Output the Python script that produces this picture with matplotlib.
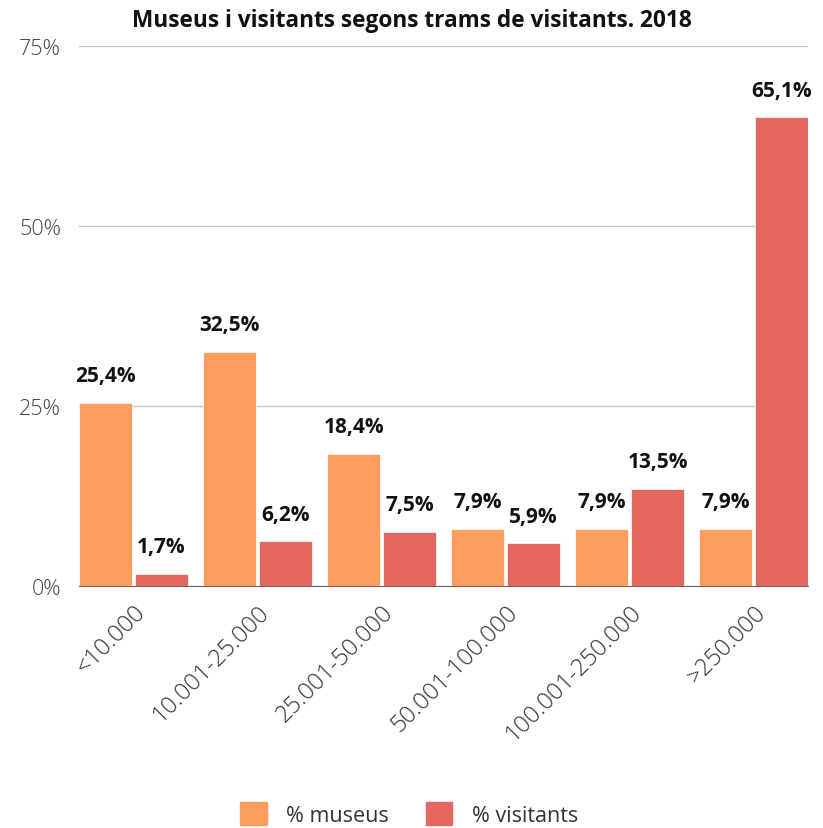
import matplotlib
matplotlib.use("Agg")
import matplotlib.pyplot as plt
import numpy as np
from matplotlib.patches import Patch

categories = ["<10.000", "10.001-25.000", "25.001-50.000", "50.001-100.000", "100.001-250.000", ">250.000"]
museus = [25.4, 32.5, 18.4, 7.9, 7.9, 7.9]
visitants = [1.7, 6.2, 7.5, 5.9, 13.5, 65.1]
yticks = [0, 25, 50, 75]

c_mus = "#FE9E5E"
c_vis = "#E3675F"

plt.rcParams['font.family'] = ['Open Sans', 'DejaVu Sans']

fig = plt.figure(figsize=(8.23, 8.29), dpi=100)
ax = fig.add_axes([0.096, 0.292, 0.886, 0.651])

x = np.arange(len(categories))
w = 0.427
off = 0.2255
ax.bar(x - off, museus, w, color=c_mus, edgecolor="white", linewidth=0.5, zorder=3)
ax.bar(x + off, visitants, w, color=c_vis, edgecolor="white", linewidth=0.5, zorder=3)

for xs, vals in ((x - off, museus), (x + off, visitants)):
    for xi, v in zip(xs, vals):
        ax.annotate(f"{v:.1f}%".replace(".", ","), (xi, v), xytext=(0, 12), textcoords="offset points",
                    ha="center", va="bottom", fontsize=15, fontweight="bold", color="#111111")

ax.set_xlim(-off - w / 2, len(categories) - 1 + off + w / 2)
ax.set_ylim(0, 75)
ax.set_yticks(yticks)
ax.set_yticklabels([f"{t}%" for t in yticks], fontsize=15.5, color="#444444", fontweight="light")
ax.yaxis.grid(True, color="#c8c8c8", linewidth=1, zorder=0)
ax.set_axisbelow(True)
for s in ["top", "right", "left"]:
    ax.spines[s].set_visible(False)
ax.spines["bottom"].set_color("#666666")
ax.tick_params(axis="y", length=0, pad=13)
ax.tick_params(axis="x", length=0, pad=10)
ax.set_xticks(x)
ax.set_xticklabels(categories, rotation=45, ha="right", rotation_mode="anchor",
                   fontsize=17, color="#333333", fontweight="light")

fig.text(0.5, 0.975, "Museus i visitants segons trams de visitants. 2018", ha="center", va="center",
         fontsize=16.3, fontweight="bold", color="#111111")

handles = [Patch(color=c_mus, label="% museus"), Patch(color=c_vis, label="% visitants")]
fig.legend(handles=handles, loc="center", bbox_to_anchor=(0.497, 0.017), ncol=2, frameon=False,
           fontsize=15.5, handlelength=1.25, handleheight=1.25, columnspacing=1.7, handletextpad=0.9,
           labelcolor="#333333")

fig.savefig("out.png", dpi=100)
